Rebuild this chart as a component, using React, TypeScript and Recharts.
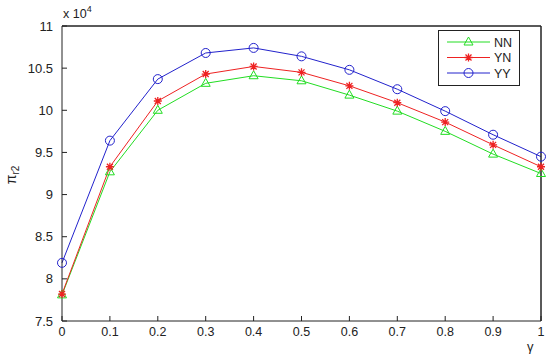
import React from 'react';
import { LineChart, Line, XAxis, YAxis, ReferenceLine } from 'recharts';

const gamma = [0, 0.1, 0.2, 0.3, 0.4, 0.5, 0.6, 0.7, 0.8, 0.9, 1];
const nnValues = [78100, 92700, 100000, 103200, 104100, 103500, 101800, 99900, 97500, 94800, 92500];
const ynValues = [78200, 93300, 101100, 104300, 105200, 104500, 102900, 100900, 98600, 95900, 93300];
const yyValues = [81900, 96400, 103700, 106800, 107400, 106400, 104800, 102500, 99900, 97100, 94500];
const xTicks = [0, 0.1, 0.2, 0.3, 0.4, 0.5, 0.6, 0.7, 0.8, 0.9, 1];
const yTicks = [75000, 80000, 85000, 90000, 95000, 100000, 105000, 110000];
const seriesNames = ['NN', 'YN', 'YY'];
const xDomain = [0, 1];
const yDomain = [75000, 110000];

const data = gamma.map((g, i) => ({ g, NN: nnValues[i], YN: ynValues[i], YY: yyValues[i] }));

const GREEN = '#22dd22';
const RED = '#ee2222';
const BLUE = '#2222cc';
const AXIS = '#222';
const FONT = 'Liberation Sans, Arial, sans-serif';
const TICK = 5;

const Tri = (props: any) => {
  const { cx, cy, stroke } = props;
  if (cx == null || cy == null) return null;
  return <path d={`M${cx},${cy - 5} L${cx + 4.5},${cy + 3} L${cx - 4.5},${cy + 3} Z`} fill="none" stroke={stroke} strokeWidth={1} />;
};
const Star = (props: any) => {
  const { cx, cy, stroke } = props;
  if (cx == null || cy == null) return null;
  const r = 4, d = 3;
  return (
    <path
      d={`M${cx - r},${cy} L${cx + r},${cy} M${cx},${cy - r} L${cx},${cy + r} M${cx - d},${cy - d} L${cx + d},${cy + d} M${cx - d},${cy + d} L${cx + d},${cy - d}`}
      stroke={stroke}
      strokeWidth={1.3}
      fill="none"
    />
  );
};
const Circ = (props: any) => {
  const { cx, cy, stroke } = props;
  if (cx == null || cy == null) return null;
  return <circle cx={cx} cy={cy} r={4.5} fill="none" stroke={stroke} strokeWidth={1} />;
};

const markerFor: Record<string, any> = { NN: Tri, YN: Star, YY: Circ };
const colorFor: Record<string, string> = { NN: GREEN, YN: RED, YY: BLUE };
// NN is drawn on the mirrored top/right axes (same domains), so those axes are in use
const axesFor: Record<string, [string, string]> = { NN: ['t', 'r'], YN: ['b', 'l'], YY: ['b', 'l'] };

const BottomTick = (p: any) => {
  const { x, y, payload } = p;
  return (
    <g>
      <line x1={x} x2={x} y1={y} y2={y - TICK} stroke={AXIS} />
      <text x={x} y={y + 15} textAnchor="middle" fontSize={12.5} fontFamily={FONT} fill={AXIS}>
        {String(Math.round(payload.value * 10) / 10)}
      </text>
    </g>
  );
};
const LeftTick = (p: any) => {
  const { x, y, payload } = p;
  return (
    <g>
      <line x1={x} x2={x + TICK} y1={y} y2={y} stroke={AXIS} />
      <text x={x - 9} y={y + 4.5} textAnchor="end" fontSize={13} fontFamily={FONT} fill={AXIS}>
        {String(payload.value / 10000)}
      </text>
    </g>
  );
};

const LegendBox = () => (
  <svg width={82} height={56} style={{ display: 'block' }}>
    <rect x={0.5} y={0.5} width={81} height={55} fill="#fff" stroke={AXIS} strokeWidth={1} />
    {seriesNames.map((n, i) => {
      const y = 12 + i * 15.5;
      const M = markerFor[n];
      return (
        <g key={n}>
          <line x1={9} x2={52} y1={y} y2={y} stroke={colorFor[n]} strokeWidth={1} />
          <M cx={30.5} cy={y} stroke={colorFor[n]} />
          <text x={56} y={y + 4.5} fontSize={12.5} fontFamily={FONT} fill={AXIS}>{n}</text>
        </g>
      );
    })}
  </svg>
);

export default function App() {
  return (
    <div style={{ position: 'absolute', left: 0, top: 0, width: 550, height: 360, background: '#fff' }}>
      <LineChart width={550} height={360} data={data} margin={{ top: 26, right: 9, bottom: 0, left: 0 }}>
        <XAxis
          xAxisId="b"
          dataKey="g"
          type="number"
          domain={xDomain}
          ticks={xTicks}
          height={39}
          tickSize={0}
          tickMargin={0}
          tickLine={false}
          stroke={AXIS}
          tick={<BottomTick />}
          interval={0}
        />
        <XAxis
          xAxisId="t"
          orientation="top"
          mirror
          dataKey="g"
          type="number"
          domain={xDomain}
          ticks={xTicks}
          height={20}
          tickSize={TICK}
          tick={false}
          stroke={AXIS}
          interval={0}
        />
        <YAxis
          yAxisId="l"
          type="number"
          domain={yDomain}
          ticks={yTicks}
          width={62}
          tickSize={0}
          tickMargin={0}
          tickLine={false}
          stroke={AXIS}
          tick={<LeftTick />}
          interval={0}
        />
        <YAxis
          yAxisId="r"
          orientation="right"
          mirror
          type="number"
          domain={yDomain}
          ticks={yTicks}
          width={20}
          tickSize={TICK}
          tick={false}
          stroke={AXIS}
          interval={0}
        />
        <ReferenceLine xAxisId="b" yAxisId="l" y={yDomain[1]} stroke={AXIS} />
        <ReferenceLine xAxisId="b" yAxisId="l" x={xDomain[1]} stroke={AXIS} />
        {seriesNames.map((n) => {
          const M = markerFor[n];
          return (
            <Line
              key={n}
              xAxisId={axesFor[n][0]}
              yAxisId={axesFor[n][1]}
              type="linear"
              dataKey={n}
              stroke={colorFor[n]}
              strokeWidth={1}
              dot={(p: any) => <M key={`${n}-${p.index}`} cx={p.cx} cy={p.cy} stroke={colorFor[n]} />}
              activeDot={false}
              isAnimationActive={false}
            />
          );
        })}
      </LineChart>
      <div style={{ position: 'absolute', left: 438, top: 30 }}>
        <LegendBox />
      </div>
      <div style={{ position: 'absolute', left: 63, top: 5, fontFamily: FONT, fontSize: 12.5, color: AXIS, whiteSpace: 'nowrap' }}>
        x 10<sup style={{ fontSize: 9, position: 'relative', top: -1 }}>4</sup>
      </div>
      <div
        style={{
          position: 'absolute',
          left: 12,
          top: 175,
          transform: 'translate(-50%, -50%) rotate(-90deg)',
          fontFamily: FONT,
          fontSize: 14,
          color: AXIS,
          whiteSpace: 'nowrap',
        }}
      >
        π<sub style={{ fontSize: 10 }}>r2</sub>
      </div>
      <div style={{ position: 'absolute', left: 527, top: 339, fontFamily: FONT, fontSize: 13, color: AXIS }}>γ</div>
    </div>
  );
}
